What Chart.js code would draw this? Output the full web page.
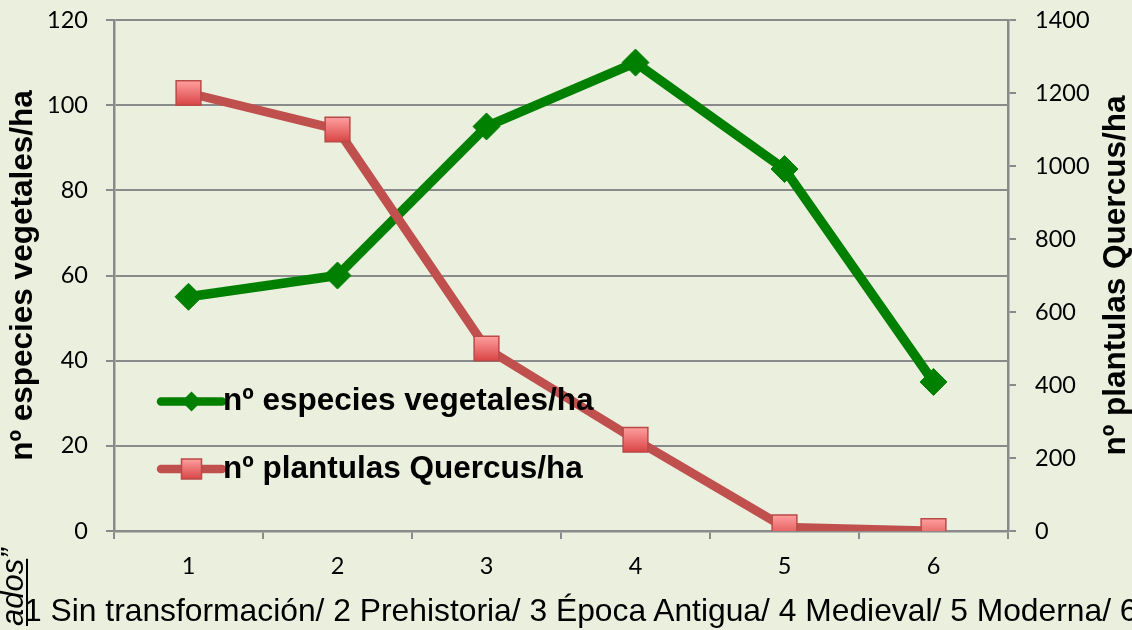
<!DOCTYPE html>
<html>
<head>
<meta charset="utf-8">
<script src="https://cdn.jsdelivr.net/npm/chart.js@4/dist/chart.umd.min.js"></script>
<style>
  html, body { margin: 0; padding: 0; width: 1132px; height: 630px; overflow: hidden; background: rgb(235,239,222); }
  #wrap { position: absolute; left: 0; top: 0; width: 1132px; height: 630px; }
  #c { position: absolute; left: 0; top: 0; }
  #caption { position: absolute; left: 24px; top: 592px; font: 31.8px "Liberation Sans", Arial, sans-serif; line-height: 36px; white-space: nowrap; color: #000; }
  #side { position: absolute; left: 0; top: 626px; transform-origin: 0 0; transform: rotate(-90deg); font: italic 31px "Liberation Sans", Arial, sans-serif; line-height: 26px; white-space: nowrap; color: #000; }
  #side u { text-decoration-thickness: 2px; text-underline-offset: 3px; }
</style>
</head>
<body>
<div id="wrap">
  <canvas id="c" width="1132" height="630"></canvas>
  <div id="caption">1 Sin transformación/ 2 Prehistoria/ 3 Época Antigua/ 4 Medieval/ 5 Moderna/ 6</div>
  <div id="side"><u>ados</u>”</div>
</div>
<script>
// ---- data ----
const categories = ['1', '2', '3', '4', '5', '6'];
const especiesLabel = 'nº especies vegetales/ha';
const plantulasLabel = 'nº plantulas Quercus/ha';
const especies = [55, 60, 95, 110, 85, 35];
const plantulas = [1200, 1100, 500, 250, 10, 0];
const leftTicks = [0, 20, 40, 60, 80, 100, 120];
const rightTicks = [0, 200, 400, 600, 800, 1000, 1200, 1400];

const GREEN = '#008000';
const RED = '#C0504D';
const GRID = '#8a8a8a';
const TITLE_FONT = 'bold 31.5px "Liberation Sans", Arial, sans-serif';
const TICK_FONT = { family: 'Lato, "Open Sans", sans-serif', size: 23.5 };

function redFill(c) {
  const chart = c.chart;
  const sc = chart.scales && chart.scales.y1;
  if (!sc || c.type !== 'data' || c.raw == null) return '#E8686B';
  const y = sc.getPixelForValue(c.raw);
  if (!isFinite(y)) return '#E8686B';
  const g = chart.ctx.createLinearGradient(0, y - 12, 0, y + 12);
  g.addColorStop(0, '#FF9E9E');
  g.addColorStop(1, '#D94545');
  return g;
}

const overlayPlugin = {
  id: 'overlay',
  afterDatasetsDraw(chart) {
    const ctx = chart.ctx;
    const a = chart.chartArea;
    const sets = chart.data.datasets;
    const x0 = a.left + 47, x1 = a.left + 108, tx = a.left + 109, mx = (x0 + x1) / 2;
    const rows = [a.top + 381.5, a.top + 449];
    ctx.save();
    sets.forEach((ds, i) => {
      const y = rows[i];
      ctx.strokeStyle = ds.borderColor;
      ctx.lineWidth = 8.5;
      ctx.lineCap = 'round';
      ctx.beginPath(); ctx.moveTo(x0, y); ctx.lineTo(x1, y); ctx.stroke();
      if (ds.pointStyle === 'rectRot') {
        ctx.fillStyle = GREEN;
        ctx.beginPath();
        ctx.moveTo(mx, y - 10); ctx.lineTo(mx + 10, y); ctx.lineTo(mx, y + 10); ctx.lineTo(mx - 10, y);
        ctx.closePath(); ctx.fill();
      } else {
        const g = ctx.createLinearGradient(0, y - 10, 0, y + 10);
        g.addColorStop(0, '#FF9E9E'); g.addColorStop(1, '#D94545');
        ctx.fillStyle = g;
        ctx.fillRect(mx - 10, y - 10, 20, 20);
        ctx.lineWidth = 1.5; ctx.strokeStyle = '#B84A48';
        ctx.strokeRect(mx - 10, y - 10, 20, 20);
      }
      ctx.fillStyle = '#000';
      ctx.font = TITLE_FONT;
      ctx.textAlign = 'left';
      ctx.textBaseline = 'middle';
      ctx.fillText(ds.label, tx, y);
    });
    // right axis title, reading bottom to top
    ctx.translate(1116, (a.top + a.bottom) / 2);
    ctx.rotate(-Math.PI / 2);
    ctx.font = TITLE_FONT;
    ctx.textAlign = 'center';
    ctx.textBaseline = 'middle';
    ctx.fillStyle = '#000';
    ctx.fillText(plantulasLabel, 0, 0);
    ctx.restore();
  }
};

function fixVert(width) {
  return function (s) {
    s.width = width;
    s.paddingTop = 0;
    s.paddingBottom = 0;
  };
}

new Chart(document.getElementById('c'), {
  type: 'line',
  data: {
    labels: categories,
    datasets: [
      {
        label: especiesLabel,
        data: especies,
        yAxisID: 'y',
        borderColor: GREEN,
        backgroundColor: GREEN,
        borderWidth: 9.5,
        pointStyle: 'rectRot',
        pointRadius: 13.5,
        pointBackgroundColor: GREEN,
        pointBorderColor: GREEN,
        pointBorderWidth: 1,
        tension: 0,
        order: 2
      },
      {
        label: plantulasLabel,
        data: plantulas,
        yAxisID: 'y1',
        borderColor: RED,
        backgroundColor: RED,
        borderWidth: 9,
        pointStyle: 'rect',
        pointRadius: 17.5,
        pointBackgroundColor: redFill,
        pointBorderColor: '#B84A48',
        pointBorderWidth: 1.5,
        tension: 0,
        order: 1
      }
    ]
  },
  options: {
    responsive: false,
    devicePixelRatio: 1,
    animation: false,
    layout: { padding: { top: 20, left: 0, right: 0, bottom: 0 } },
    plugins: { legend: { display: false }, tooltip: { enabled: false } },
    scales: {
      x: {
        type: 'category',
        offset: true,
        grid: { offset: true, drawOnChartArea: false, drawTicks: true, tickLength: 8, color: GRID, lineWidth: 2 },
        border: { display: true, color: GRID, width: 2.5 },
        ticks: { color: '#000', font: TICK_FONT, padding: 13 },
        afterFit(s) { s.height = 99; s.paddingLeft = 0; s.paddingRight = 0; }
      },
      y: {
        position: 'left',
        min: 0, max: 120,
        afterBuildTicks(s) { s.ticks = leftTicks.map(v => ({ value: v })); },
        grid: { color: GRID, lineWidth: 2, tickLength: 8 },
        border: { display: true, color: GRID, width: 2.5 },
        ticks: { color: '#000', font: TICK_FONT, padding: 18, callback: v => String(v) },
        title: { display: true, text: especiesLabel, color: '#000', font: { family: '"Liberation Sans", Arial, sans-serif', size: 31.5, weight: 'bold' }, padding: { top: 4, bottom: 0 } },
        afterFit: fixVert(114)
      },
      y1: {
        position: 'right',
        min: 0, max: 1400,
        afterBuildTicks(s) { s.ticks = rightTicks.map(v => ({ value: v })); },
        grid: { drawOnChartArea: false, color: GRID, lineWidth: 2, tickLength: 8 },
        border: { display: true, color: GRID, width: 2.5 },
        ticks: { color: '#000', font: TICK_FONT, padding: 19, callback: v => String(v) },
        afterFit: fixVert(124)
      }
    }
  },
  plugins: [overlayPlugin]
});
</script>
</body>
</html>
